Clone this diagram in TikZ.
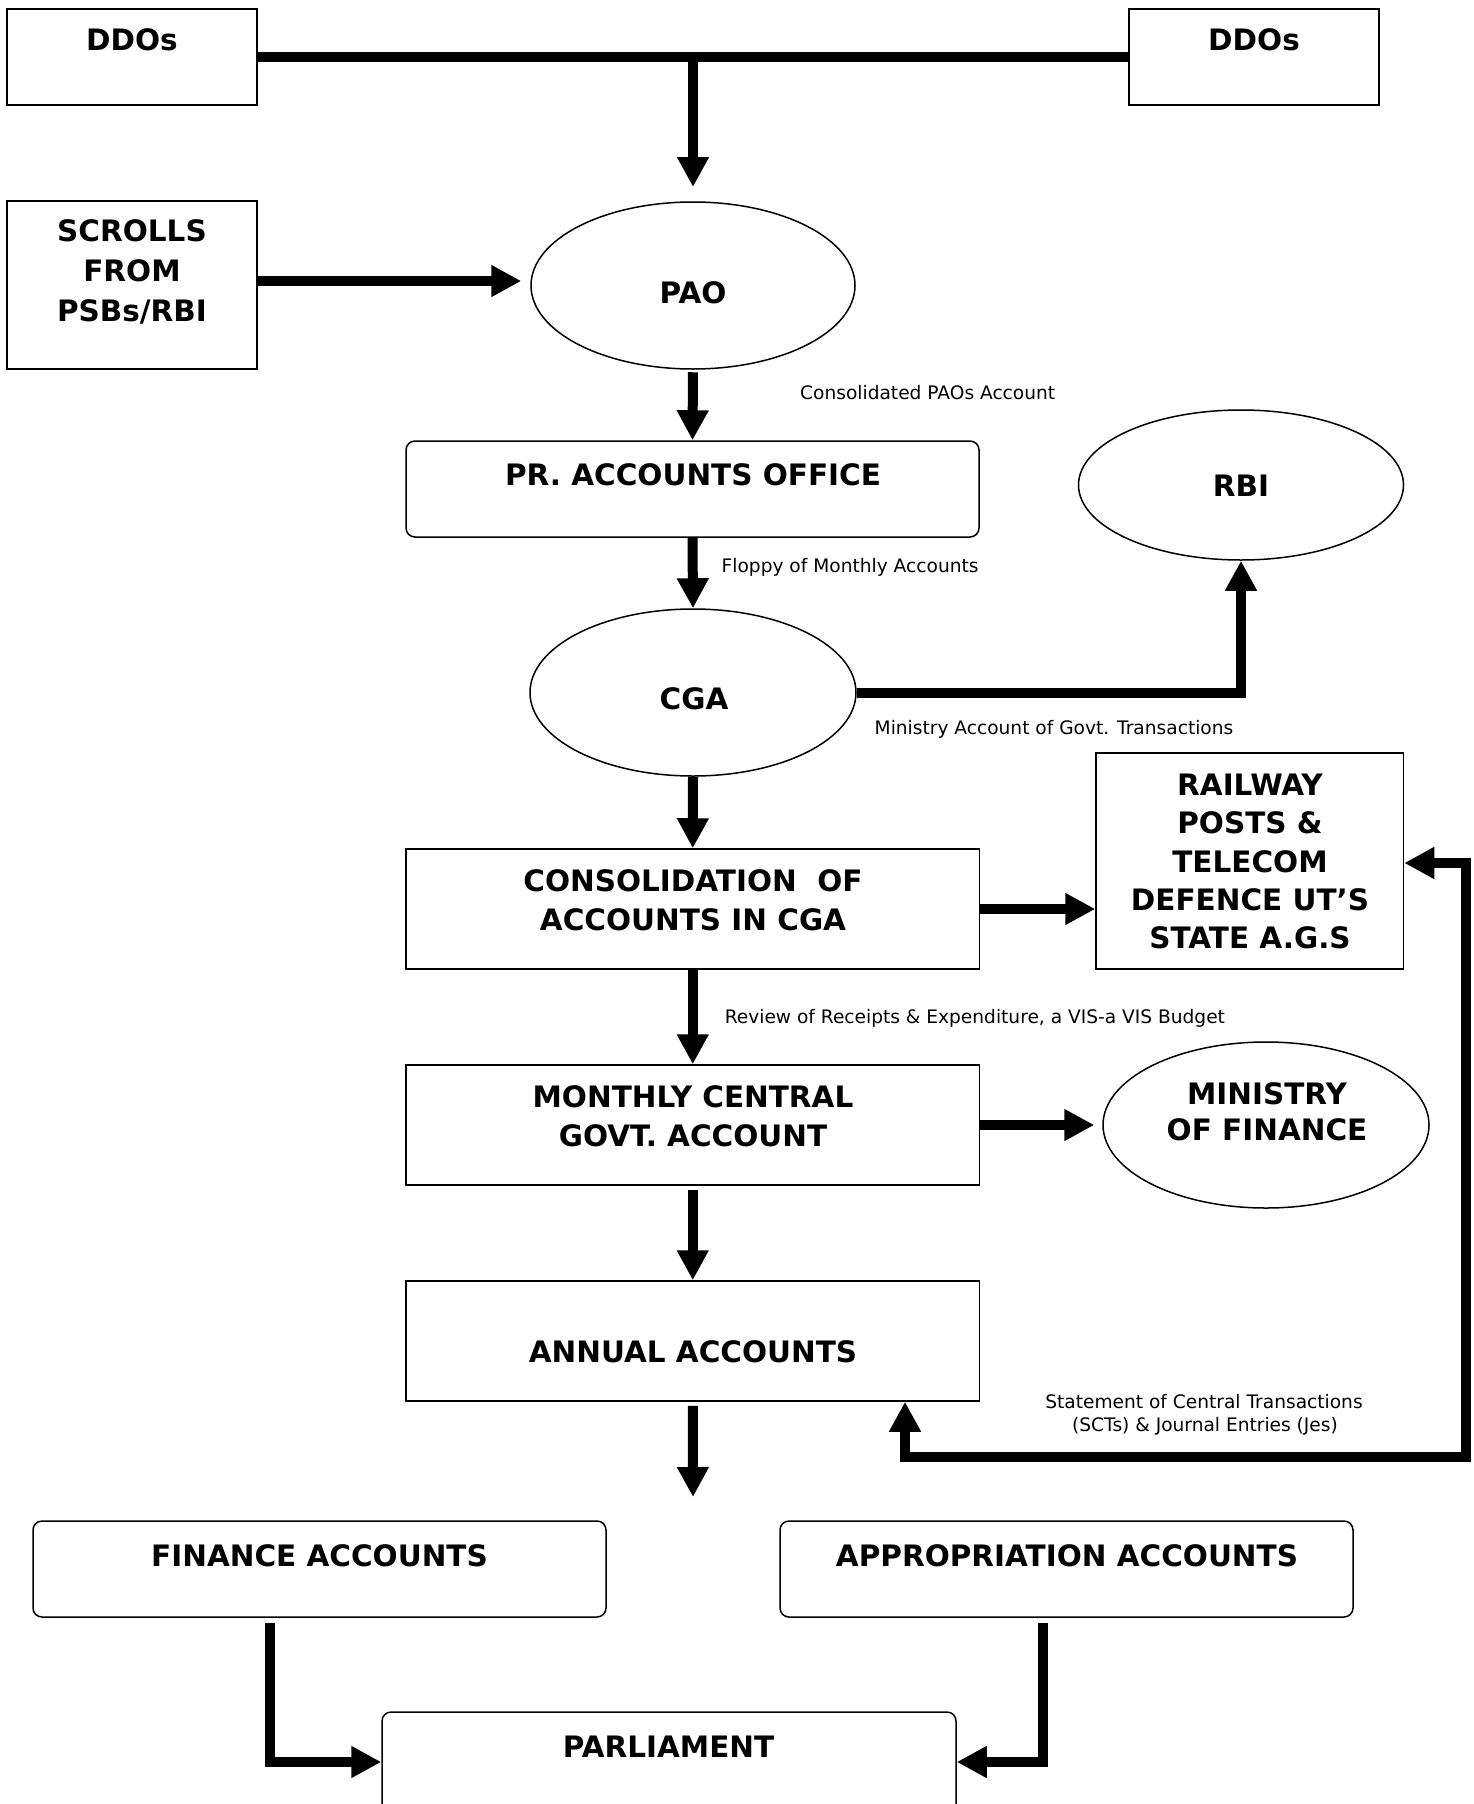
\documentclass[tikz,border=0pt]{standalone}
\usepackage{fontspec}
\setmainfont{DejaVu Sans}
\usetikzlibrary{arrows.meta,shapes.geometric}
\tikzset{
  box/.style={draw, line width=1.5pt, inner sep=0pt},
  rbox/.style={box, rounded corners=9pt},
  ell/.style={draw, line width=1.5pt, ellipse, inner sep=0pt},
  bt/.style={font=\bfseries\fontsize{29.5}{39}\selectfont, align=center, inner sep=0pt},
  lt/.style={font=\fontsize{18.6}{23}\selectfont, inner sep=0pt, anchor=base west},
  tip/.tip={Triangle[length=30pt,width=30pt]},
  arr/.style={line width=10pt, -tip},
}
\begin{document}
\begin{tikzpicture}[x=1pt,y=-1pt]
\clip (0,0) rectangle (1473,1804);
\fill[white] (0,0) rectangle (1473,1804);

% shapes
\node[box, minimum width=250pt, minimum height=96pt] (ddoL) at (132,57) {};
\node[box, minimum width=250pt, minimum height=96pt] (ddoR) at (1254,57) {};
\node[box, minimum width=250pt, minimum height=168pt] (scroll) at (132,285) {};
\node[ell, minimum width=324pt, minimum height=167pt] (pao) at (693,285.5) {};
\node[rbox, minimum width=573pt, minimum height=96pt] (pr) at (692.5,489) {};
\node[ell, minimum width=325pt, minimum height=150pt] (rbi) at (1241,485) {};
\node[ell, minimum width=326pt, minimum height=167pt] (cga) at (693,692.5) {};
\node[box, minimum width=307.5pt, minimum height=216pt] (rail) at (1249.75,861) {};
\node[box, minimum width=573.5pt, minimum height=120pt] (cons) at (692.75,909) {};
\node[box, minimum width=573.5pt, minimum height=120pt] (mon) at (692.75,1125) {};
\node[ell, minimum width=326pt, minimum height=166pt] (mof) at (1266,1125) {};
\node[box, minimum width=573.5pt, minimum height=120pt] (ann) at (692.75,1341) {};
\node[rbox, minimum width=573pt, minimum height=96pt] (fin) at (319.5,1569) {};
\node[rbox, minimum width=573pt, minimum height=96pt] (app) at (1066.5,1569) {};
\node[rbox, minimum width=574pt, minimum height=118pt] (parl) at (669,1771) {};

% bold texts
\node[bt, anchor=base] (ddoLt) at (132,50.75) {DDOs};
\node[bt, anchor=base] (ddoRt) at (1254,50.75) {DDOs};
\node[bt, font=\bfseries\fontsize{29.5}{40}\selectfont] (scrollt) at (132,272) {SCROLLS\\FROM\\PSBs/RBI};
\node[bt, anchor=base] (paot) at (693,303.25) {PAO};
\node[bt, anchor=base] (prt) at (693,485.25) {PR. ACCOUNTS OFFICE};
\node[bt, anchor=base] (rbit) at (1241,496.75) {RBI};
\node[bt, anchor=base] (cgat) at (694,709.75) {CGA};
\node[bt, font=\bfseries\fontsize{29.5}{38.3}\selectfont] (railt) at (1250,861.5) {RAILWAY\\POSTS \&\\TELECOM\\DEFENCE UT’S\\STATE A.G.S};
\node[bt] (const) at (693,900.4) {CONSOLIDATION\ \ OF\\ACCOUNTS IN CGA};
\node[bt] (mont) at (693,1116) {MONTHLY CENTRAL\\GOVT. ACCOUNT};
\node[bt, font=\bfseries\fontsize{29.5}{36}\selectfont] (moft) at (1267,1112) {MINISTRY\\OF FINANCE};
\node[bt, anchor=base] (annt) at (693,1362.5) {ANNUAL ACCOUNTS};
\node[bt, anchor=base] (fint) at (319.5,1566.75) {FINANCE ACCOUNTS};
\node[bt, anchor=base] (appt) at (1067,1566.75) {APPROPRIATION ACCOUNTS};
\node[bt, anchor=base] (parlt) at (668.5,1757.75) {PARLIAMENT};

% labels
\node[lt] (l1) at (800,399.3) {Consolidated PAOs Account};
\node[lt] (l2) at (721.5,572.3) {Floppy of Monthly Accounts};
\node[lt] (l3) at (874.5,734) {Ministry Account of Govt. Transactions};
\node[lt] (l4) at (724.6,1023) {Review of Receipts \& Expenditure, a VIS-a VIS Budget};
\node[lt, anchor=base] (l5a) at (1204,1408.8) {Statement of Central Transactions};
\node[lt, anchor=base] (l5b) at (1205,1431.5) {(SCTs) \& Journal Entries (Jes)};

% connectors
\coordinate (jn) at (693,57);
\coordinate (tipT) at (693,187);
\coordinate (annTip) at (693,1497);
\coordinate (fb1) at (905,1457);
\coordinate (fb2) at (1466,1457);
\coordinate (fb3) at (1466,863);
\coordinate (fc) at (270,1762);
\coordinate (ac) at (1043,1762);

\draw[line width=9.5pt] (ddoL.east) -- (ddoR.west);
\draw[arr] (jn) -- (tipT);
\draw[arr, shorten >=9pt] ([yshift=4pt]scroll.east) -- ([yshift=4pt]scroll.east -| pao.west);
\draw[arr, shorten <=2.5pt] (pao.south) -- (pr.north);
\draw[arr] (pr.south) -- (cga.north);
\draw[arr] (cga.east) -| (rbi.south);
\draw[arr] (cga.south) -- (cons.north);
\draw[arr] (cons.east) -- (cons.east -| rail.west);
\draw[arr] (cons.south) -- (mon.north);
\draw[arr, shorten >=8pt] (mon.east) -- (mof.west);
\draw[arr, shorten <=4pt] (mon.south) -- (ann.north);
\draw[arr, shorten <=4pt] (ann.south) -- (annTip);
\draw[line width=10pt, tip-tip] (ann.south -| fb1) -- (fb1) -- (fb2) -- (fb3) -- (fb3 -| rail.east);
\draw[arr, shorten <=5pt] (fin.south -| fc) -- (fc) -- (fc -| parl.west);
\draw[arr, shorten <=5pt] (app.south -| ac) -- (ac) -- (ac -| parl.east);
\end{tikzpicture}
\end{document}
